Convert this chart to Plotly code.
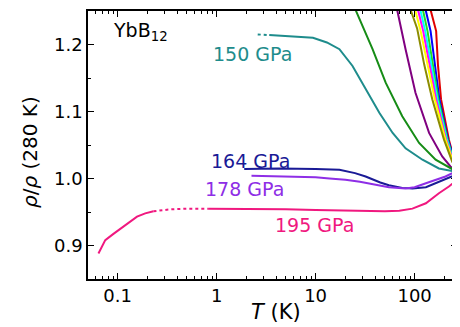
import plotly.graph_objects as go
import math

# ---- data (T in K, rho/rho(280K)) ----
T_195_low = [0.064, 0.075, 0.09, 0.107, 0.13, 0.157, 0.19, 0.23]
R_195_low = [0.888, 0.908, 0.917, 0.925, 0.935, 0.943, 0.948, 0.951]
T_195_dot = [0.23, 0.34, 0.5, 0.82]
R_195_dot = [0.951, 0.954, 0.955, 0.955]
T_195 = [0.82, 1, 2, 5, 10, 20, 30, 50, 70, 95, 130, 176, 222, 268, 280]
R_195 = [0.955, 0.955, 0.955, 0.954, 0.953, 0.952, 0.951, 0.951, 0.952, 0.955, 0.963, 0.978, 0.988, 0.998, 1.0]

T_178 = [2.25, 4.3, 10, 13.8, 20, 28, 37, 55, 81, 100, 130, 170, 205, 240, 275]
R_178 = [1.004, 1.003, 1.002, 1.0, 0.998, 0.995, 0.992, 0.987, 0.985, 0.987, 0.993, 0.999, 1.003, 1.008, 1.011]

T_164 = [1.9, 4.3, 10, 17.4, 25, 32, 45, 55, 75, 95, 130, 163, 220, 275]
R_164 = [1.014, 1.015, 1.014, 1.013, 1.008, 1.003, 0.994, 0.990, 0.986, 0.985, 0.987, 0.993, 1.0, 1.007]

T_150_dot = [2.6, 3.4]
R_150_dot = [1.215, 1.214]
T_150 = [3.4, 4.3, 9.4, 13, 17.4, 23.6, 32, 44, 60, 81, 120, 176, 260, 275]
R_150 = [1.214, 1.213, 1.21, 1.203, 1.193, 1.168, 1.133, 1.098, 1.068, 1.045, 1.028, 1.015, 1.01, 1.009]

T_green = [23, 25.6, 37.6, 51, 75, 111, 163, 250, 275]
R_green = [1.28, 1.25, 1.193, 1.143, 1.093, 1.053, 1.028, 1.013, 1.009]

T_purple = [60, 67, 81, 102, 140, 190, 230, 275]
R_purple = [1.30, 1.25, 1.193, 1.128, 1.068, 1.033, 1.018, 1.009]

T_olive = [85, 92, 106, 125, 151, 198, 240, 275]
R_olive = [1.30, 1.25, 1.224, 1.17, 1.118, 1.058, 1.025, 1.009]
T_yellow = [95, 102, 115, 135, 160, 205, 245, 275]
R_yellow = [1.30, 1.25, 1.22, 1.17, 1.118, 1.058, 1.025, 1.009]
T_magenta = [102, 109, 122, 142, 165, 208, 247, 275]
R_magenta = [1.30, 1.25, 1.22, 1.17, 1.118, 1.058, 1.025, 1.009]
T_cyan = [108, 115, 128, 148, 170, 212, 249, 275]
R_cyan = [1.30, 1.25, 1.22, 1.17, 1.118, 1.058, 1.025, 1.009]
T_lime = [114, 122, 135, 153, 174, 215, 250, 275]
R_lime = [1.30, 1.25, 1.22, 1.17, 1.118, 1.058, 1.025, 1.009]
T_blue = [122, 130, 145, 160, 178, 218, 252, 275]
R_blue = [1.30, 1.25, 1.22, 1.17, 1.118, 1.058, 1.025, 1.009]
T_red = [138, 146, 165, 172, 185, 222, 254, 275]
R_red = [1.30, 1.25, 1.22, 1.17, 1.118, 1.058, 1.025, 1.009]

labels = ["150 GPa", "164 GPa", "178 GPa", "195 GPa"]
x_ticks = [0.1, 1, 10, 100]
x_tick_text = ["0.1", "1", "10", "100"]
x_minor = [0.06, 0.07, 0.08, 0.09,
           0.2, 0.3, 0.4, 0.5, 0.6, 0.7, 0.8, 0.9,
           2, 3, 4, 5, 6, 7, 8, 9,
           20, 30, 40, 50, 60, 70, 80, 90, 200]

C150, C164, C178, C195 = "#1e8c8c", "#1a1a96", "#8e2ee6", "#f0187f"

fig = go.Figure()

def add(x, y, color, dash="solid", width=2):
    fig.add_trace(go.Scatter(x=x, y=y, mode="lines",
                             line=dict(color=color, width=width, dash=dash),
                             showlegend=False, hoverinfo="skip"))

for x, y, c in [(T_red, R_red, "#e00000"), (T_blue, R_blue, "#0000ff"),
                (T_lime, R_lime, "#22dd22"), (T_cyan, R_cyan, "#00ffff"),
                (T_magenta, R_magenta, "#ff00ff"), (T_yellow, R_yellow, "#ffff00"),
                (T_olive, R_olive, "#8c8c00"), (T_purple, R_purple, "#800080"),
                (T_green, R_green, "#168c16")]:
    add(x, y, c)

add(T_150_dot, R_150_dot, C150, dash="dot")
add(T_150, R_150, C150)
add(T_164, R_164, C164)
add(T_178, R_178, C178)
add(T_195_low, R_195_low, C195)
add(T_195_dot, R_195_dot, C195, dash="dot")
add(T_195, R_195, C195)

font = "DejaVu Sans"
ann = [
    dict(x=math.log10(0.085), y=1.219, text="YbB<sub>12</sub>", color="black", size=19),
    dict(x=-0.057, y=1.186, text=labels[0], color=C150, size=19),
    dict(x=-0.075, y=1.026, text=labels[1], color=C164, size=19),
    dict(x=-0.138, y=0.984, text=labels[2], color=C178, size=19),
    dict(x=0.566, y=0.930, text=labels[3], color=C195, size=19),
]
for a in ann:
    fig.add_annotation(x=a["x"], y=a["y"], text=a["text"], showarrow=False,
                       xanchor="left", yanchor="middle",
                       font=dict(family=font, size=a["size"], color=a["color"]))

# axis titles
fig.add_annotation(xref="paper", yref="paper", x=0.509, y=-0.123,
                   text="<i>T</i> (K)", showarrow=False,
                   xanchor="center", yanchor="middle",
                   font=dict(family=font, size=21, color="black"))
fig.add_annotation(xref="paper", yref="paper", x=-0.157, y=0.474,
                   text="<i>ρ</i>/<i>ρ</i> (280 K)", showarrow=False, textangle=-90,
                   xanchor="center", yanchor="middle",
                   font=dict(family=font, size=20, color="black"))

# page body has an 8px margin, so the figure is sized to fill the rest
fig.update_layout(
    width=452, height=319,
    margin=dict(l=80, r=3, t=3, b=48),
    paper_bgcolor="white", plot_bgcolor="white",
    font=dict(family=font, color="black", size=18),
    xaxis=dict(type="log", range=[math.log10(0.0502), math.log10(268)],
               tickvals=x_ticks, ticktext=x_tick_text, automargin=False,
               ticks="inside", ticklen=6, tickwidth=1.3, tickcolor="black",
               minor=dict(tickvals=x_minor, ticks="inside", ticklen=3,
                          tickcolor="black", tickwidth=1, showgrid=False),
               showline=True, linecolor="black", linewidth=1.5, mirror="allticks",
               showgrid=False, zeroline=False,
               tickfont=dict(size=18)),
    yaxis=dict(range=[0.85, 1.25], dtick=0.1, tick0=0.9, tickformat=".1f",
               automargin=False,
               ticks="inside", ticklen=6, tickwidth=1.3, tickcolor="black",
               minor=dict(dtick=0.05, ticks="inside", ticklen=3, tickcolor="black",
                          tickwidth=1, showgrid=False),
               showline=True, linecolor="black", linewidth=1.5, mirror="allticks",
               showgrid=False, zeroline=False,
               tickfont=dict(size=18)),
)

fig.write_html("out.html")
